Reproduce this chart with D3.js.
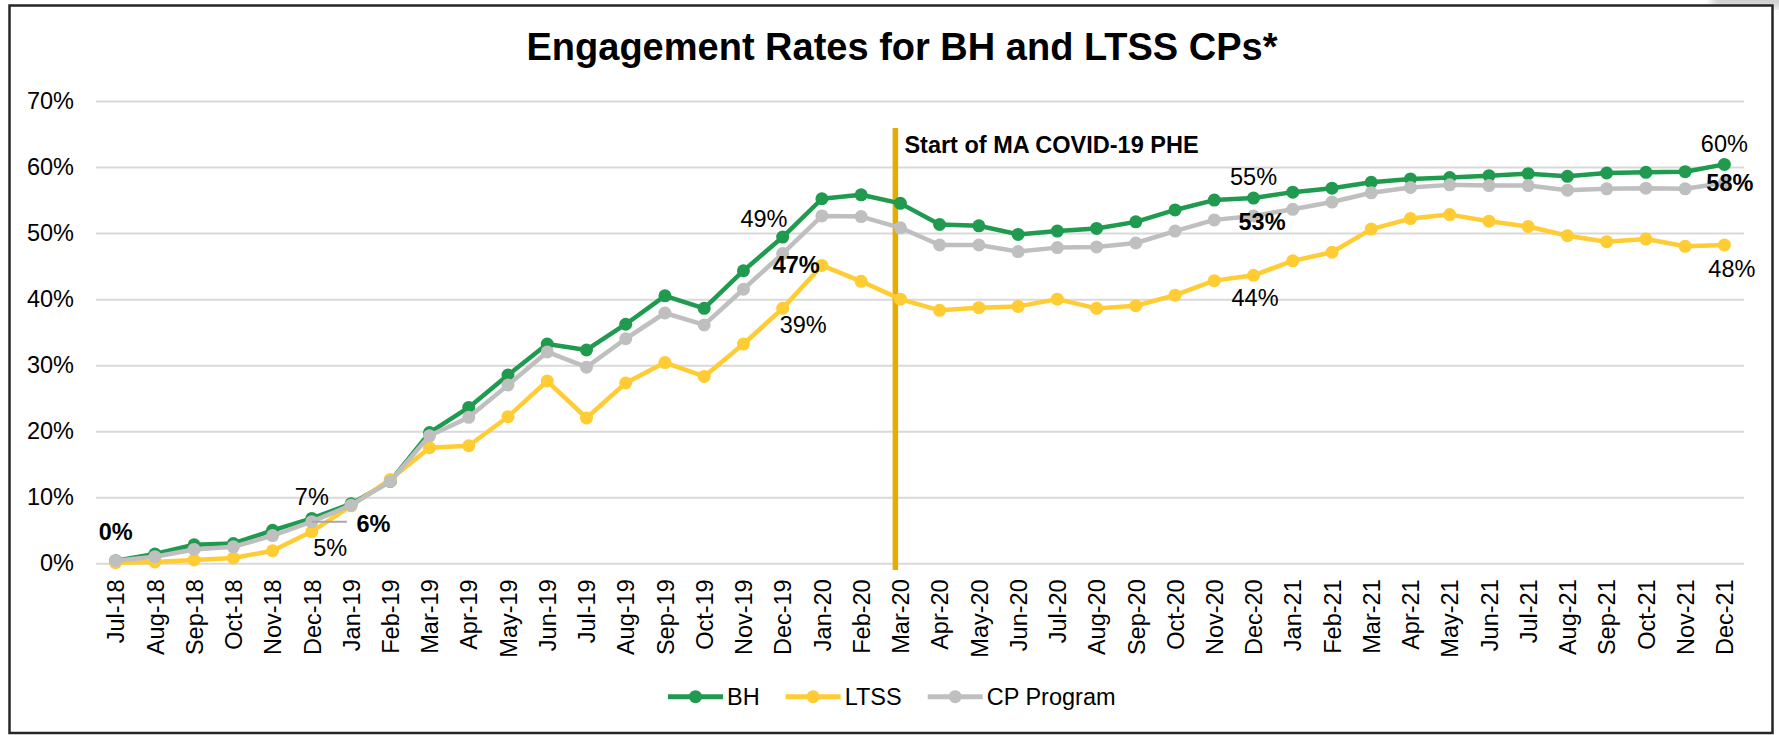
<!DOCTYPE html>
<html>
<head>
<meta charset="utf-8">
<script src="https://cdn.jsdelivr.net/npm/d3@7"></script>
<style>
  html, body { margin: 0; padding: 0; background: #fff; }
  svg text { font-family: "Liberation Sans", Arial, sans-serif; fill: #000; }
</style>
</head>
<body>
<div id="chart"></div>
<script>
// months on the x axis
const months = ["Jul-18","Aug-18","Sep-18","Oct-18","Nov-18","Dec-18",
    "Jan-19","Feb-19","Mar-19","Apr-19","May-19","Jun-19","Jul-19","Aug-19","Sep-19","Oct-19","Nov-19","Dec-19",
    "Jan-20","Feb-20","Mar-20","Apr-20","May-20","Jun-20","Jul-20","Aug-20","Sep-20","Oct-20","Nov-20","Dec-20",
    "Jan-21","Feb-21","Mar-21","Apr-21","May-21","Jun-21","Jul-21","Aug-21","Sep-21","Oct-21","Nov-21","Dec-21"];

// engagement rates, in percent
const bh = [0.4, 1.4, 2.8, 3.0, 5.0, 6.8, 9.0, 12.4, 19.8, 23.6, 28.5, 33.2, 32.3, 36.2, 40.5, 38.6, 44.3, 49.4,
    55.2, 55.8, 54.5, 51.3, 51.1, 49.8, 50.3, 50.7, 51.7, 53.5, 55.0, 55.3,
    56.2, 56.8, 57.7, 58.2, 58.4, 58.7, 59.0, 58.6, 59.1, 59.2, 59.3, 60.4];
const ltss = [0.1, 0.2, 0.5, 0.8, 1.9, 4.8, 8.7, 12.7, 17.5, 17.8, 22.2, 27.6, 22.0, 27.3, 30.4, 28.3, 33.2, 38.6,
    45.1, 42.7, 40.0, 38.3, 38.7, 38.9, 40.0, 38.6, 39.0, 40.6, 42.8, 43.6,
    45.8, 47.1, 50.6, 52.2, 52.8, 51.8, 51.0, 49.6, 48.7, 49.1, 48.0, 48.2];
const cp = [0.4, 1.0, 2.1, 2.5, 4.2, 6.3, 8.8, 12.4, 19.3, 22.1, 27.0, 32.0, 29.7, 34.0, 37.9, 36.1, 41.5, 46.9,
    52.6, 52.5, 50.8, 48.2, 48.2, 47.2, 47.8, 47.9, 48.5, 50.3, 52.0, 52.6,
    53.6, 54.7, 56.1, 56.9, 57.3, 57.2, 57.2, 56.5, 56.7, 56.8, 56.7, 57.6];

const seriesNames = ["BH", "LTSS", "CP Program"];
const yTicks = [0, 10, 20, 30, 40, 50, 60, 70];
const phaseMonth = "Mar-20";
const phaseText = "Start of MA COVID-19 PHE";
const title = "Engagement Rates for BH and LTSS CPs*";

const paintChart = () => {
    const width = 1779, height = 735;
    const colors = { "BH": "#1f9a4f", "LTSS": "#ffcc33", "CP Program": "#bfbfbf" };
    const values = { "BH": bh, "LTSS": ltss, "CP Program": cp };
    const fs = 23.5;

    const x = d3.scalePoint().domain(months).range([96, 1744]).padding(0.5);
    const y = d3.scaleLinear().domain([0, 70]).range([563.3, 101]);

    const svg = d3.select("#chart").append("svg")
        .attr("width", width)
        .attr("height", height);

    // little shadow top right, outside the frame
    const defs = svg.append("defs");
    defs.append("filter").attr("id", "blur")
        .append("feGaussianBlur").attr("stdDeviation", 4);
    svg.append("rect")
        .attr("x", 1712).attr("y", -8).attr("width", 80).attr("height", 16)
        .style("fill", "#cfcfcf").attr("filter", "url(#blur)");

    svg.append("rect")
        .attr("x", 9.5).attr("y", 5.5).attr("width", 1763).attr("height", 727.5)
        .style("fill", "#fff").style("stroke", "#262626").style("stroke-width", 2.5);

    svg.append("text")
        .attr("x", 902).attr("y", 60)
        .attr("text-anchor", "middle")
        .style("font-size", "38px").style("font-weight", "bold")
        .text(title);

    // y axis with gridlines
    const yAxis = svg.append("g")
        .attr("transform", "translate(96,0)")
        .call(d3.axisLeft(y).tickValues(yTicks)
            .tickFormat(d => d + "%")
            .tickSize(-(1744 - 96))
            .tickPadding(22));
    yAxis.select(".domain").remove();
    yAxis.selectAll("line").style("stroke", "#d9d9d9").style("stroke-width", 2);
    yAxis.selectAll("text").style("font-size", fs + "px").attr("font-family", null);

    // x axis labels, rotated
    const xAxis = svg.append("g")
        .attr("transform", `translate(0,${y(0)})`)
        .call(d3.axisBottom(x).tickSize(0));
    xAxis.select(".domain").remove();
    xAxis.selectAll("text")
        .style("font-size", fs + "px")
        .attr("font-family", null)
        .attr("transform", "rotate(-90)")
        .attr("text-anchor", "end")
        .attr("x", -16).attr("y", 0).attr("dy", "0.35em");

    // PHE marker line
    const px = x(phaseMonth) - 5;
    svg.append("line")
        .attr("x1", px).attr("x2", px)
        .attr("y1", 128).attr("y2", 570)
        .style("stroke", "#e6ac00").style("stroke-width", 5.5);
    svg.append("text")
        .attr("x", px + 9).attr("y", 152.7)
        .style("font-size", fs + "px").style("font-weight", "bold")
        .text(phaseText);

    // series
    const line = d3.line().x((d, i) => x(months[i])).y(d => y(d));
    seriesNames.forEach(name => {
        const g = svg.append("g");
        g.append("path")
            .datum(values[name])
            .attr("d", line)
            .style("fill", "none")
            .style("stroke", colors[name])
            .style("stroke-width", 4.5)
            .style("stroke-linejoin", "round");
        g.selectAll("circle")
            .data(values[name])
            .enter()
            .append("circle")
            .attr("cx", (d, i) => x(months[i]))
            .attr("cy", d => y(d))
            .attr("r", 6.5)
            .style("fill", colors[name]);
    });

    // data labels
    const fmt = v => Math.round(v) + "%";
    const labels = [
        { s: "CP Program", m: "Jul-18", dx: 0, dy: -21, bold: true },
        { s: "BH", m: "Dec-18", dx: 0, dy: -13.4 },
        { s: "CP Program", m: "Dec-18", dx: 44.7, dy: 10, bold: true, anchor: "start", leader: true },
        { s: "LTSS", m: "Dec-18", dx: 18.4, dy: 24.4 },
        { s: "BH", m: "Dec-19", dx: -18.7, dy: -10.3 },
        { s: "CP Program", m: "Dec-19", dx: 13.6, dy: 19.8, bold: true },
        { s: "LTSS", m: "Dec-19", dx: 20.6, dy: 24.3 },
        { s: "BH", m: "Dec-20", dx: 0, dy: -13 },
        { s: "CP Program", m: "Dec-20", dx: 8.5, dy: 14, bold: true },
        { s: "LTSS", m: "Dec-20", dx: 1.5, dy: 31 },
        { s: "BH", m: "Dec-21", dx: 0, dy: -12.7 },
        { s: "CP Program", m: "Dec-21", dx: 5.5, dy: 7.8, bold: true },
        { s: "LTSS", m: "Dec-21", dx: 7.5, dy: 31.8 }
    ];
    const lg = svg.append("g");
    labels.forEach(l => {
        const v = values[l.s][months.indexOf(l.m)];
        const cx = x(l.m), cy = y(v);
        if (l.leader) {
            lg.append("line")
                .attr("x1", cx).attr("x2", cx + 35)
                .attr("y1", cy).attr("y2", cy)
                .style("stroke", "#a6a6a6").style("stroke-width", 2);
        }
        lg.append("text")
            .attr("x", cx + l.dx).attr("y", cy + l.dy)
            .attr("text-anchor", l.anchor || "middle")
            .style("font-size", fs + "px")
            .style("font-weight", l.bold ? "bold" : "normal")
            .text(fmt(v));
    });

    // legend
    const legend = svg.append("g").attr("transform", "translate(668,696.7)");
    let lx = 0;
    seriesNames.forEach(name => {
        const item = legend.append("g").attr("transform", `translate(${lx},0)`);
        item.append("line")
            .attr("x1", 0).attr("x2", 55)
            .style("stroke", colors[name]).style("stroke-width", 5);
        item.append("circle")
            .attr("cx", 27.5).attr("r", 6.5)
            .style("fill", colors[name]);
        const t = item.append("text")
            .attr("x", 59).attr("dy", "0.35em")
            .style("font-size", fs + "px")
            .text(name);
        lx += 59 + t.node().getComputedTextLength() + 26;
    });
};

document.addEventListener("DOMContentLoaded", paintChart);
</script>
</body>
</html>
